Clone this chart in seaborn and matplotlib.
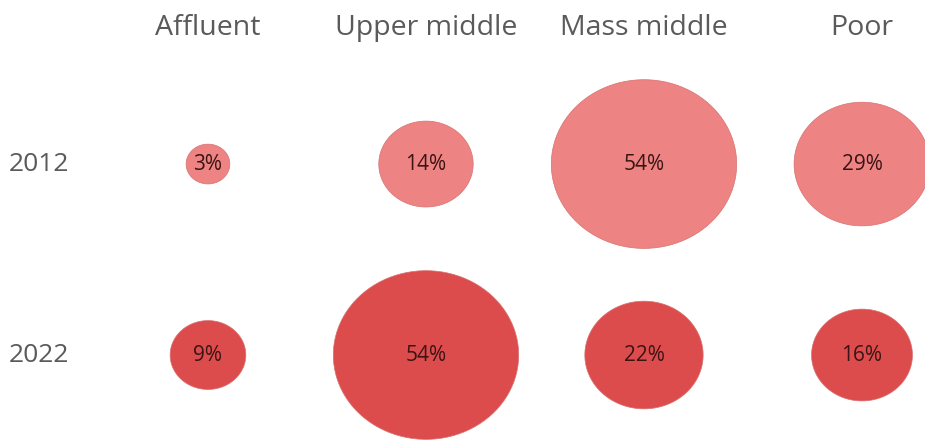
import numpy as np
import pandas as pd
import seaborn as sns
import matplotlib.pyplot as plt
from matplotlib.path import Path
from matplotlib.markers import MarkerStyle

# Data
segments = ["Affluent", "Upper middle", "Mass middle", "Poor"]
years = ["2012", "2022"]
share_2012 = [3, 14, 54, 29]
share_2022 = [9, 54, 22, 16]

df = pd.DataFrame({
    "Segment": segments * 2,
    "Year": [years[0]] * 4 + [years[1]] * 4,
    "Share": share_2012 + share_2022,
})

sns.set_style("white")
plt.rcParams["font.family"] = ["Open Sans", "DejaVu Sans"]

fig = plt.figure(figsize=(9.25, 4.4), dpi=100)
ax = fig.add_axes([0, 0, 1, 1])

# bubbles are slightly wider than tall
t = np.linspace(0, 2 * np.pi, 100)
ellipse = MarkerStyle(Path(np.column_stack([np.cos(t), 0.91 * np.sin(t)]), closed=True))

k = 330  # points^2 per percent (area proportional to share)
sns.scatterplot(data=df, x="Segment", y="Year", hue="Year", size="Share",
                sizes=(k * min(df["Share"]), k * max(df["Share"])),
                palette={"2012": "#EE8383", "2022": "#DD4C4C"},
                marker=ellipse, edgecolor="#D87070", linewidth=0.5,
                legend=False, ax=ax, zorder=2)

# map pixel layout onto categorical axes
ax.set_xlim(-0.954, 3.289)
ax.set_ylim(1.445, -0.859)
ax.set_axis_off()

for _, row in df.iterrows():
    ax.text(segments.index(row["Segment"]), years.index(row["Year"]),
            f"{row['Share']}%", ha="center", va="center",
            fontsize=15, color="#3A1414", zorder=3)

for i, seg in enumerate(segments):
    ax.text(i, -0.71, seg, ha="center", va="center", fontsize=20.5, color="#5A5A5A")

for j, yr in enumerate(years):
    ax.text(-0.915, j, yr, ha="left", va="center", fontsize=19, color="#5A5A5A")

plt.savefig("out.png", dpi=100)
plt.close()
